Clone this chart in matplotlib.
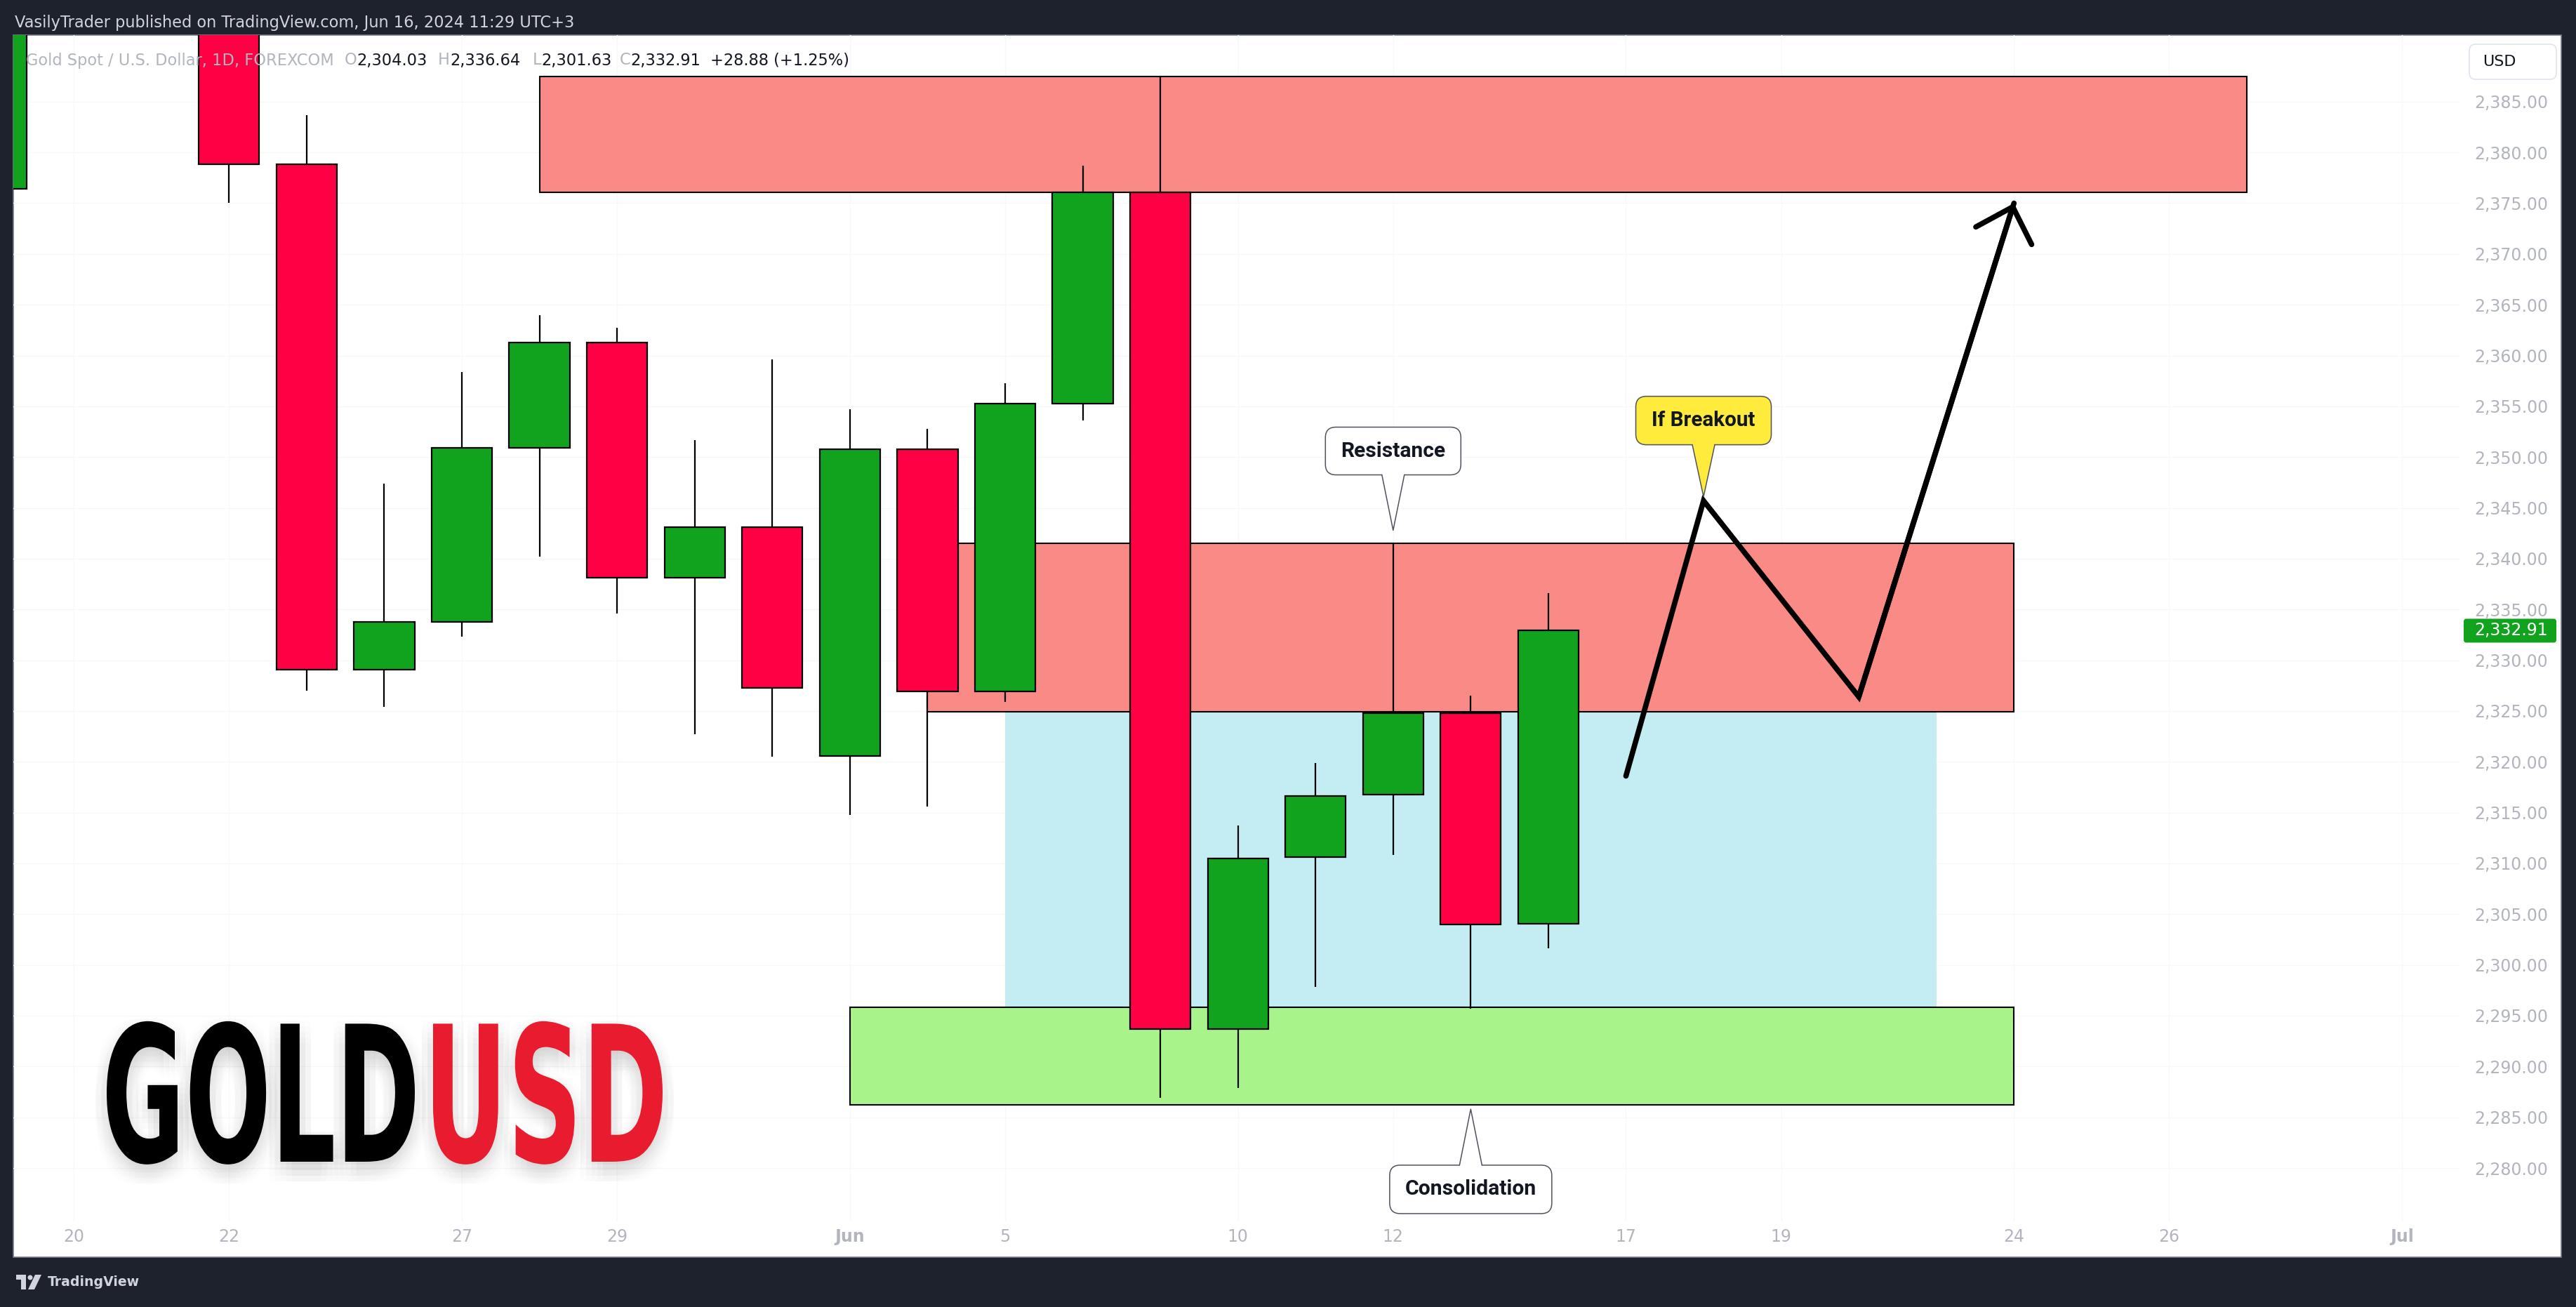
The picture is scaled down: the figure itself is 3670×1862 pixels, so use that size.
import numpy as np
import matplotlib
matplotlib.use("Agg")
import matplotlib.pyplot as plt
from matplotlib import patheffects
from matplotlib.patches import Rectangle, FancyBboxPatch, Polygon, Circle
from matplotlib.lines import Line2D
from matplotlib.path import Path
from matplotlib.transforms import Affine2D, IdentityTransform
from matplotlib.font_manager import FontProperties
from matplotlib.textpath import TextPath

# XAUUSD 1D (FOREXCOM)
days = ["May 17", "May 20", "May 21", "May 22", "May 23", "May 24", "May 27",
        "May 28", "May 29", "May 30", "May 31", "Jun 3", "Jun 4", "Jun 5",
        "Jun 6", "Jun 7", "Jun 10", "Jun 11", "Jun 12", "Jun 13", "Jun 14"]
opens = [2376.4, 2415.0, 2425.0, 2421.5, 2378.8, 2329.1, 2333.8, 2350.9, 2361.3,
         2338.1, 2343.1, 2320.6, 2350.8, 2326.9, 2355.3, 2376.1, 2293.7, 2310.6,
         2316.8, 2324.8, 2304.03]
highs = [2422.0, 2450.0, 2426.5, 2432.7, 2383.7, 2347.4, 2358.4, 2364.0, 2362.7,
         2351.7, 2359.6, 2354.7, 2352.8, 2357.3, 2378.7, 2387.5, 2313.7, 2319.9,
         2341.5, 2326.5, 2336.64]
lows = [2376.4, 2413.0, 2407.0, 2375.0, 2327.0, 2325.4, 2332.3, 2340.2, 2334.6,
        2322.7, 2320.5, 2314.8, 2315.6, 2325.9, 2353.6, 2286.9, 2287.9, 2297.8,
        2310.8, 2295.7, 2301.63]
closes = [2415.0, 2425.0, 2421.5, 2378.8, 2329.1, 2333.8, 2350.9, 2361.3, 2338.1,
          2343.1, 2327.3, 2350.8, 2326.9, 2355.3, 2376.1, 2293.7, 2310.5, 2316.6,
          2324.8, 2304.0, 2332.91]

tick_pos = [0, 2, 5, 7, 10, 12, 15, 17, 20, 22, 25, 27, 30]
tick_lbl = ["20", "22", "27", "29", "Jun", "5", "10", "12", "17", "19", "24", "26", "Jul"]
price_ticks = np.arange(2280, 2386, 5)

# zones: [x_from, x_to, price_low, price_high]
supply_zone = [6, 28, 2376.1, 2387.5]
resist_zone = [11, 25, 2324.9, 2341.5]
range_zone = [12, 24, 2295.8, 2324.9]
support_zone = [10, 25, 2286.2, 2295.8]

# projected path
path_x = [20, 21, 23, 25]
path_y = [2318.6, 2345.7, 2326.4, 2375.0]

# callouts: label, tip (x, price), box centre (x, price)
notes_lbl = ["Resistance", "If Breakout", "Consolidation"]
notes_tip = [(17, 2342.8), (21, 2346.1), (18, 2285.8)]
notes_box = [(17, 2350.6), (21, 2353.6), (18, 2277.9)]

header = "VasilyTrader published on TradingView.com, Jun 16, 2024 11:29 UTC+3"
symbol = "Gold Spot / U.S. Dollar, 1D, FOREXCOM"
ohlc_lbl = ["O", "H", "L", "C", ""]
ohlc_val = ["2,304.03", "2,336.64", "2,301.63", "2,332.91", "+28.88 (+1.25%)"]

GREEN = "#12A31E"
RED = "#FF0044"
ZONE_RED = "#F98A86"
ZONE_BLUE = "#C3EDF3"
ZONE_GREEN = "#A8F48A"
BG = "#1E222D"
GREY = "#B2B5BE"
INK = "#131722"

W, H, DPI = 3670, 1862, 100
fig = plt.figure(figsize=(W / DPI, H / DPI), dpi=DPI, facecolor=BG)
r = fig.canvas.get_renderer()


def fx(px):
    return px / W


def fy(py):  # py measured from the top
    return 1 - py / H


def fit(t, width_px):
    w = t.get_window_extent(r).width
    t.set_fontsize(t.get_fontsize() * width_px / w)


fig.add_artist(Rectangle((fx(19), fy(1791)), (3649 - 19) / W, (1791 - 50) / H,
                         transform=fig.transFigure, facecolor="white",
                         edgecolor="#787B86", linewidth=1.2, zorder=-1))

ax = fig.add_axes([fx(19), fy(1740), (3505 - 19) / W, (1740 - 50) / H])
ax.patch.set_alpha(0)
for s in ax.spines.values():
    s.set_visible(False)
ax.set_xlim(-0.78, 30.75)
ax.set_ylim(2274.75, 2391.55)

ax.set_xticks(tick_pos, tick_lbl)
ax.tick_params(axis="x", length=0, pad=7, labelsize=17, labelcolor=GREY)
for t in ax.get_xticklabels():
    if not t.get_text().isdigit():
        t.set_fontweight("bold")
ax.yaxis.tick_right()
ax.set_yticks(price_ticks, [f"{v:,.2f}" for v in price_ticks])
ax.tick_params(axis="y", length=0, pad=90, labelsize=17, labelcolor=GREY)
plt.setp(ax.get_yticklabels(), ha="right")
ax.grid(True, color="#F7F8FA", lw=1)
ax.set_axisbelow(True)

# zones
for z, fc, ec, zo in [(range_zone, ZONE_BLUE, "none", 1),
                      (supply_zone, ZONE_RED, "black", 2),
                      (resist_zone, ZONE_RED, "black", 2),
                      (support_zone, ZONE_GREEN, "black", 2)]:
    ax.add_patch(Rectangle((z[0], z[2]), z[1] - z[0], z[3] - z[2],
                           facecolor=fc, edgecolor=ec, linewidth=1.5, zorder=zo))

# candles
x = np.arange(len(days)) - 1
o, h, l, c = map(np.array, (opens, highs, lows, closes))
cols = np.where(c >= o, GREEN, RED)
ax.vlines(x, l, h, color="black", lw=1.6, zorder=3)
ax.bar(x, np.abs(c - o), bottom=np.minimum(o, c), width=0.78, color=cols,
       edgecolor="black", linewidth=1.6, zorder=4)

# projection
ax.plot(path_x, path_y, color="black", lw=5.5, solid_capstyle="round",
        solid_joinstyle="miter", zorder=6)
ax.annotate("", xy=(path_x[-1], path_y[-1]), xytext=(path_x[-2], path_y[-2]),
            arrowprops=dict(arrowstyle="->,head_length=0.31,head_width=0.30",
                            color="black", lw=5.5, shrinkA=0, shrinkB=0,
                            mutation_scale=100, capstyle="round", joinstyle="miter"),
            zorder=6)


def callout(label, tip, center, w, h, face, text_w):
    tx, ty = ax.transData.transform(tip)
    cx, cy = ax.transData.transform(center)
    fig.add_artist(FancyBboxPatch((cx - w / 2, cy - h / 2), w, h,
                                  boxstyle="round,pad=0,rounding_size=15",
                                  transform=IdentityTransform(), facecolor=face,
                                  edgecolor="#50535E", linewidth=1.1, zorder=5))
    s = -1 if ty < cy else 1
    by = cy + s * h / 2
    fig.add_artist(Polygon([(cx - 16, by - s * 4), (cx - 16, by), (tx, ty),
                            (cx + 16, by), (cx + 16, by - s * 4)],
                           closed=True, transform=IdentityTransform(),
                           facecolor=face, edgecolor="none", zorder=6))
    fig.add_artist(Line2D([cx - 16, tx, cx + 16], [by, ty, by],
                          transform=IdentityTransform(), color="#50535E",
                          lw=1.1, zorder=6))
    t = fig.text(cx / W, cy / H, label, ha="center", va="center", fontsize=18,
                 fontweight="bold", family=["Roboto", "DejaVu Sans"], color=INK,
                 zorder=7)
    fit(t, text_w)


callout(notes_lbl[0], notes_tip[0], notes_box[0], 193, 68, "white", 149)
callout(notes_lbl[1], notes_tip[1], notes_box[1], 193, 69, "#FFEB3B", 148)
callout(notes_lbl[2], notes_tip[2], notes_box[2], 231, 69, "white", 188)

# last price tag and currency box on the price scale
_, py = ax.transData.transform((0, closes[-1]))
fig.add_artist(FancyBboxPatch((3510, py - 17), 132, 34,
                              boxstyle="round,pad=0,rounding_size=4",
                              transform=IdentityTransform(), facecolor=GREEN,
                              edgecolor="none", zorder=5))
fig.text(3630 / W, py / H, f"{closes[-1]:,.2f}", ha="right", va="center",
         fontsize=17, color="white", zorder=6)
fig.add_artist(FancyBboxPatch((3518, H - 113), 124, 50,
                              boxstyle="round,pad=0,rounding_size=9",
                              transform=IdentityTransform(), facecolor="white",
                              edgecolor="#E0E3EB", linewidth=1.2, zorder=5))
fig.text(3537 / W, fy(88), "USD", ha="left", va="center", fontsize=16,
         color=INK, zorder=6)

# header texts
t = fig.text(fx(21), fy(32), header, ha="left", va="center", fontsize=15,
             color="#D1D4DC")
fit(t, 800)
t = fig.text(fx(37), fy(86), symbol, ha="left", va="center", fontsize=15,
             color=GREY)
fit(t, 439)
fs = t.get_fontsize()
for x0, a, b in zip([491, 624, 759, 883, 1012], ohlc_lbl, ohlc_val):
    xa = x0
    if a:
        ta = fig.text(fx(x0), fy(86), a, ha="left", va="center", fontsize=fs,
                      color=GREY)
        xa = x0 + ta.get_window_extent(r).width
    fig.text(fx(xa), fy(86), b, ha="left", va="center", fontsize=fs, color=INK)

# footer logo
fig.add_artist(Polygon([(23, H - 1816), (37, H - 1816), (37, H - 1837),
                        (30, H - 1837), (30, H - 1823), (23, H - 1823)],
                       transform=IdentityTransform(), facecolor="#D1D4DC",
                       edgecolor="none"))
fig.add_artist(Circle((43, H - 1820), 3.5, transform=IdentityTransform(),
                      facecolor="#D1D4DC", edgecolor="none"))
fig.add_artist(Polygon([(50, H - 1816), (59, H - 1816), (49, H - 1837),
                        (40, H - 1837)], transform=IdentityTransform(),
                       facecolor="#D1D4DC", edgecolor="none"))
t = fig.text(fx(68), fy(1826), "TradingView", ha="left", va="center",
             fontsize=15, fontweight="bold", color="#D1D4DC")
fit(t, 131)


# big GOLDUSD title: one text, glyphs squeezed into a condensed shape,
# first word black, second red, with a soft shadow
class TwoTone(patheffects.AbstractPathEffect):
    def __init__(self, n_first, spans, colors):
        super().__init__()
        self.n_first = n_first
        self.spans = spans
        self.colors = colors

    def draw_path(self, renderer, gc, tpath, affine, rgbFace=None):
        m = affine.get_matrix()
        k, y0 = m[1, 1], m[1, 2]
        starts = list(np.where(tpath.codes == Path.MOVETO)[0]) + [len(tpath.codes)]
        parts = [[], []]
        for i, (a, b) in enumerate(zip(starts[:-1], starts[1:])):
            parts[0 if i < self.n_first else 1].append((tpath.vertices[a:b], tpath.codes[a:b]))
        for part, (p0, p1), col in zip(parts, self.spans, self.colors):
            v = np.concatenate([pv for pv, _ in part])
            cd = np.concatenate([pc for _, pc in part])
            p = Path(v, cd)
            real = v[cd != Path.CLOSEPOLY]
            u0, u1 = real[:, 0].min(), real[:, 0].max()
            tr = Affine2D().translate(-u0, 0).scale((p1 - p0) / (u1 - u0), k).translate(p0, y0)
            for dx in (-16, -8, 0, 8, 16):
                for dy in (-28, -20, -12, -4, 4):
                    g = renderer.new_gc()
                    g.copy_properties(gc)
                    g.set_foreground("none")
                    g.set_alpha(0.006)
                    g.set_linewidth(0)
                    renderer.draw_path(g, p, tr + Affine2D().translate(dx, dy),
                                       (0.3, 0.3, 0.3))
                    g.restore()
            g = renderer.new_gc()
            g.copy_properties(gc)
            g.set_linewidth(0)
            renderer.draw_path(g, p, tr, matplotlib.colors.to_rgb(col))
            g.restore()


title_fp = FontProperties(family="DejaVu Sans", weight="bold", stretch="condensed")
ext = TextPath((0, 0), "GOLDUSD", size=100, prop=title_fp).get_extents()
n_gold = int(np.sum(TextPath((0, 0), "GOLD", size=100, prop=title_fp).codes == Path.MOVETO))
fp = title_fp.copy()
fp.set_size(204 * 72 / ext.height)
fig.text(fx(152), fy(1655), "GOLDUSD", fontproperties=fp, color="black",
         ha="left", va="baseline", zorder=4,
         path_effects=[TwoTone(n_gold, [(152, 591), (617, 944)],
                               ["black", "#E81C2E"])])

fig.savefig("out.png", dpi=DPI, facecolor=BG)
